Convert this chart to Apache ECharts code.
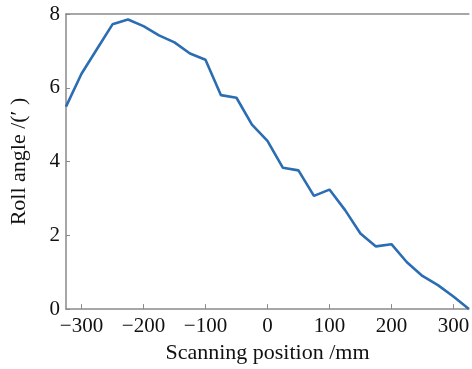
<!DOCTYPE html>
<html><head><meta charset="utf-8">
<script src="https://cdn.jsdelivr.net/npm/echarts@6/dist/echarts.min.js"></script>
<style>html,body{margin:0;padding:0;background:#fff}#c{width:472px;height:369px}</style>
</head><body><div id="c"></div>
<script>
const positions = [-325,-300,-275,-250,-225,-200,-175,-150,-125,-100,-75,-50,-25,0,25,50,75,100,125,150,175,200,225,250,275,300,325];
const rollAngle = [5.49,6.38,7.05,7.72,7.85,7.67,7.42,7.23,6.93,6.76,5.80,5.73,5.00,4.56,3.83,3.76,3.07,3.24,2.69,2.05,1.70,1.76,1.27,0.90,0.65,0.34,0.00];
const xTicks = [-300,-200,-100,0,100,200,300];
const yTicks = [0,2,4,6,8];
const xTitle = 'Scanning position /mm';
const yTitle = 'Roll angle /(\u2032 )';

const font = 'Liberation Serif';
const axisCol = '#8a8a8a';
const chart = echarts.init(document.getElementById('c'));
const fmt = v => String(v).replace('-', '\u2212');
chart.setOption({
  animation: false,
  grid: {left: 62, right: -2, top: 14, bottom: 55, containLabel: false},
  xAxis: [{
    type: 'value', min: -325, max: 325,
    name: xTitle, nameLocation: 'middle', nameGap: 31,
    nameTextStyle: {fontFamily: font, fontSize: 22, color: '#111'},
    axisLine: {show: true, lineStyle: {color: axisCol, width: 1.5}},
    axisTick: {show: true, inside: true, length: 5, customValues: xTicks, lineStyle: {color: axisCol}},
    axisLabel: {customValues: xTicks, formatter: fmt, fontFamily: font, fontSize: 21, color: '#111', margin: 7},
    splitLine: {show: false}
  }, {
    type: 'value', min: -325, max: 325, position: 'top',
    axisLine: {show: true, onZero: false, lineStyle: {color: axisCol, width: 1.5}},
    axisTick: {show: false}, axisLabel: {show: false}, splitLine: {show: false}
  }],
  yAxis: [{
    type: 'value', min: 0, max: 8, interval: 2,
    name: yTitle, nameLocation: 'middle', nameGap: 36, nameRotate: 90,
    nameTextStyle: {fontFamily: font, fontSize: 22, color: '#111'},
    axisLine: {show: true, onZero: false, lineStyle: {color: axisCol, width: 1.5}},
    axisTick: {show: true, inside: true, length: 4, lineStyle: {color: axisCol}},
    axisLabel: {formatter: fmt, fontFamily: font, fontSize: 21, color: '#111', margin: 6},
    splitLine: {show: false}
  }],
  series: [{
    type: 'line', xAxisIndex: 0, yAxisIndex: 0,
    data: positions.map((p, i) => [p, rollAngle[i]]),
    showSymbol: false, symbol: 'none',
    lineStyle: {color: '#2a6db3', width: 2.6},
    clip: false
  }]
});
</script></body></html>
